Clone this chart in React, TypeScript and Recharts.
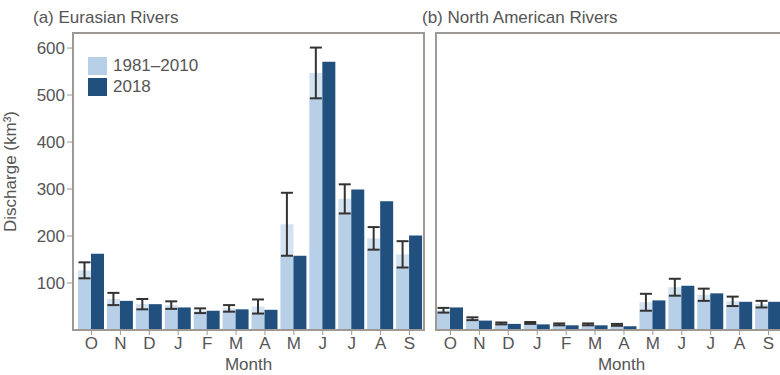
import { BarChart, Bar, XAxis, YAxis, ErrorBar, usePlotArea } from "recharts";

// month order of the water year, Oct -> Sep
const months = ["O", "N", "D", "J", "F", "M", "A", "M", "J", "J", "A", "S"];

// (a) Eurasian rivers, km³
const eurasiaMean = [127, 66, 55, 53, 41, 46, 50, 225, 547, 279, 195, 161];
const eurasiaStd = [17, 13, 11, 8, 5, 7, 15, 67, 54, 31, 24, 28];
const eurasia2018 = [162, 62, 55, 48, 41, 44, 43, 158, 571, 299, 274, 201];

// (b) North American rivers, km³
const namMean = [42, 24, 14, 15, 12, 12, 11, 59, 91, 75, 61, 55];
const namStd = [5, 3, 2, 2, 2, 2, 2, 18, 18, 13, 10, 7];
const nam2018 = [48, 20, 13, 12, 10, 10, 8, 63, 94, 78, 60, 60];

const yTicks = [100, 200, 300, 400, 500, 600];
const seriesNames = ["1981–2010", "2018"];

const LIGHT = "#b7d0e8";
const PALE = "#d4e3f1";
const DARK = "#21507f";
const FRAME = "#9e9995";
const TEXT = "#555";
const FONT = "'Liberation Sans', Arial, sans-serif";
const Y_MAX = 632;

function buildRows(mean: number[], std: number[], recent: number[]) {
  return months.map((m, i) => ({
    month: m,
    base: mean[i] - std[i],
    spread: std[i],
    err: std[i],
    recent: recent[i],
  }));
}

const eurasiaRows = buildRows(eurasiaMean, eurasiaStd, eurasia2018);
const namRows = buildRows(namMean, namStd, nam2018);

function Frame() {
  const area = usePlotArea();
  if (!area) return null;
  return (
    <rect
      x={area.x}
      y={area.y}
      width={area.width}
      height={area.height}
      fill="none"
      stroke={FRAME}
      strokeWidth={2}
    />
  );
}

function LegendBox() {
  const colors = [LIGHT, DARK];
  return (
    <div style={{ position: "absolute", left: 88, top: 55, fontSize: 17, color: TEXT }}>
      {seriesNames.map((name, i) => (
        <div key={name} style={{ display: "flex", alignItems: "center", height: 21 }}>
          <span style={{ width: 19, height: 18, background: colors[i], marginRight: 6 }} />
          <span>{name}</span>
        </div>
      ))}
    </div>
  );
}

const tickStyle = { fill: TEXT, fontSize: 17, fontFamily: FONT };

function Panel({
  rows,
  width,
  margin,
  showY,
  padLeft,
  labelDx,
}: {
  rows: ReturnType<typeof buildRows>;
  width: number;
  margin: { top: number; right: number; left: number; bottom: number };
  showY: boolean;
  padLeft: number;
  labelDx: number;
}) {
  return (
    <BarChart
      width={width}
      height={375}
      data={rows}
      margin={margin}
      barCategoryGap={1}
      barGap={0}
    >
      <XAxis
        dataKey="month"
        height={45}
        interval={0}
        padding={{ left: padLeft, right: 0 }}
        axisLine={{ stroke: FRAME, strokeWidth: 2 }}
        tickLine={{ stroke: FRAME }}
        tickSize={5}
        tickMargin={2}
        tick={tickStyle}
        label={{
          value: "Month",
          position: "insideBottom",
          offset: 5,
          dx: labelDx,
          style: { fill: TEXT, fontSize: 17, fontFamily: FONT },
        }}
      />
      <YAxis
        domain={[0, Y_MAX]}
        ticks={yTicks}
        hide={!showY}
        width={73}
        axisLine={false}
        tickLine={{ stroke: FRAME }}
        tickSize={6}
        tick={tickStyle}
        label={{
          value: "Discharge (km³)",
          angle: -90,
          position: "insideLeft",
          offset: 10,
          dy: -10,
          style: { fill: TEXT, fontSize: 17, fontFamily: FONT, textAnchor: "middle" },
        }}
      />
      <Bar dataKey="base" stackId="clim" fill={LIGHT} isAnimationActive={false} />
      <Bar dataKey="spread" stackId="clim" fill={PALE} isAnimationActive={false}>
        <ErrorBar dataKey="err" width={6} stroke="#333" strokeWidth={2} isAnimationActive={false} />
      </Bar>
      <Bar dataKey="recent" fill={DARK} isAnimationActive={false} />
      <Frame />
    </BarChart>
  );
}

export default function App() {
  return (
    <div
      style={{
        position: "absolute",
        left: 0,
        top: 0,
        width: 780,
        height: 375,
        overflow: "hidden",
        background: "#fff",
        fontFamily: FONT,
      }}
    >
      <div style={{ position: "absolute", left: 0, top: 0 }}>
        <Panel
          rows={eurasiaRows}
          width={426}
          margin={{ top: 33, right: 2, left: 0, bottom: 0 }}
          showY
          padLeft={4}
          labelDx={0}
        />
      </div>
      <div style={{ position: "absolute", left: 430, top: 0 }}>
        <Panel
          rows={namRows}
          width={356}
          margin={{ top: 33, right: 3, left: 6, bottom: 0 }}
          showY={false}
          padLeft={0}
          labelDx={12}
        />
      </div>
      <LegendBox />
      <div style={{ position: "absolute", left: 33, top: 8, fontSize: 17, lineHeight: "20px", color: TEXT }}>
        (a) Eurasian Rivers
      </div>
      <div style={{ position: "absolute", left: 422, top: 8, fontSize: 17, lineHeight: "20px", color: TEXT }}>
        (b) North American Rivers
      </div>
    </div>
  );
}
